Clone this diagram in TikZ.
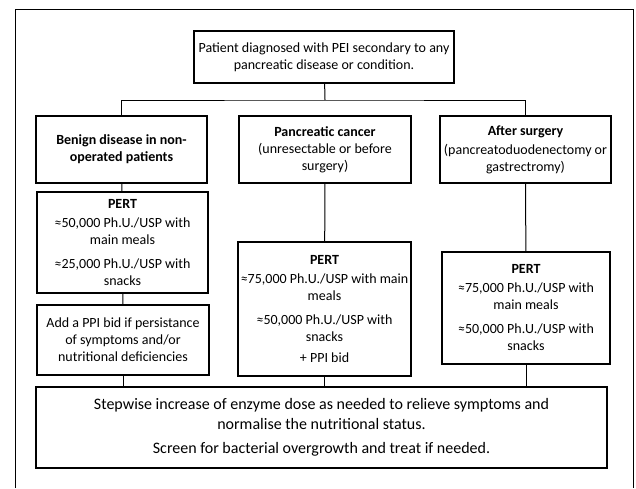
\documentclass[tikz,border=0pt]{standalone}
\usepackage{fontspec}
\setmainfont{Carlito}
\usepackage{tikz}

\begin{document}
\begin{tikzpicture}[x=1pt,y=-1pt,
  box/.style={draw,line width=1.3pt,minimum width=171pt,minimum height=67pt,
              align=center, inner sep=1pt,
              font=\fontsize{14}{17}\selectfont},
  line/.style={line width=1pt}
]
\useasboundingbox (0,0) rectangle (636,488);
\draw[line] (15,488) -- (15,9) -- (633,9) -- (633,488);

\node[box,minimum width=260pt,minimum height=52pt] (TOP) at (324,57)
  {Patient diagnosed with PEI secondary to any\\pancreatic disease or condition.};
\node[box] (BEN) at (121.5,149.5) {\textbf{Benign disease in non-}\\\textbf{operated patients}};
\node[box,minimum width=172pt] (CAN) at (325,149.5)
  {\textbf{Pancreatic cancer}\\(unresectable or before\\surgery)};
\node[box] (SUR) at (525.5,149.5)
  {\textbf{After surgery}\\[2pt](pancreatoduodenectomy or\\gastrectromy)};

\node[box,minimum height=101pt] (PB) at (122.5,242.5)
  {\textbf{PERT}\\[2pt]≈50,000 Ph.U./USP with\\main meals\\[7pt]≈25,000 Ph.U./USP with\\snacks};
\node[box,minimum width=172pt,minimum height=70pt] (PPI) at (123,340)
  {Add a PPI bid if persistance\\of symptoms and/or\\nutritional deficiencies};
\node[box,minimum width=173pt,minimum height=134pt] (PC) at (324.5,309)
  {\textbf{PERT}\\[2pt]≈75,000 Ph.U./USP with main\\meals\\[7pt]≈50,000 Ph.U./USP with\\snacks\\[4pt]+ PPI bid};
\node[box,minimum width=168pt,minimum height=112pt] (PS) at (526,308)
  {\textbf{PERT}\\[2pt]≈75,000 Ph.U./USP with\\main meals\\[7pt]≈50,000 Ph.U./USP with\\snacks};

\node[box,minimum width=571pt,minimum height=81pt,font=\fontsize{16}{20}\selectfont] (STEP) at (321.5,427.5)
  {Stepwise increase of enzyme dose as needed to relieve symptoms and\\normalise the nutritional status.\\[4pt]Screen for bacterial overgrowth and treat if needed.};

\coordinate (bus) at (325,100);
\draw[line] (TOP) -- (bus);
\draw[line] (BEN.north) |- (bus) -| (SUR.north);
\draw[line] (BEN) -- (PB);
\draw[line] (PB) -- (PPI);
\draw[line] (CAN) -- (PC);
\draw[line] (SUR) -- (PS);
\draw[line] (PPI.south) -- (PPI.south |- STEP.north);
\draw[line] (PC.south) -- (PC.south |- STEP.north);
\draw[line] (PS.south) -- (PS.south |- STEP.north);
\end{tikzpicture}
\end{document}
